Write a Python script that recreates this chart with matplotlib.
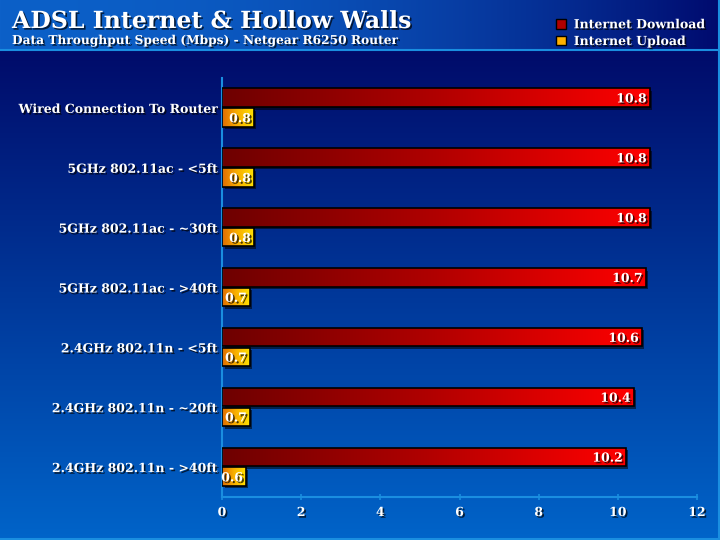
import numpy as np
import matplotlib.pyplot as plt
import matplotlib.patheffects as pe
import matplotlib.transforms as mtransforms
from matplotlib.colors import LinearSegmentedColormap
from matplotlib.patches import Patch

categories = ["Wired Connection To Router", "5GHz 802.11ac - <5ft", "5GHz 802.11ac - ~30ft",
              "5GHz 802.11ac - >40ft", "2.4GHz 802.11n - <5ft", "2.4GHz 802.11n - ~20ft",
              "2.4GHz 802.11n - >40ft"]
download = [10.8, 10.8, 10.8, 10.7, 10.6, 10.4, 10.2]
upload = [0.8, 0.8, 0.8, 0.7, 0.7, 0.7, 0.6]
series_names = ["Internet Download", "Internet Upload"]

FONT = "DejaVu Serif"
LINE = "#1a8ee0"
shadow = [pe.withSimplePatchShadow(offset=(1.2, -1.2), shadow_rgbFace="black", alpha=0.7)]

fig = plt.figure(figsize=(7.2, 5.4), dpi=100)

# background: header band with horizontal gradient, body with vertical gradient
W, H, HEAD = 720, 540, 50
img = np.zeros((H, W, 3))
c_left = np.array([0x0c, 0x60, 0xc8]) / 255
c_right = np.array([0x00, 0x0a, 0x6e]) / 255
t = (np.linspace(0, 1, W) ** 2.0)[None, :, None]
img[:HEAD] = c_left * (1 - t) + c_right * t
c_top = np.array([0x00, 0x0b, 0x6a]) / 255
c_bot = np.array([0x00, 0x64, 0xc9]) / 255
s = np.linspace(0, 1, H - HEAD)[:, None, None]
img[HEAD:] = c_top * (1 - s) + c_bot * s
bg = fig.add_axes([0, 0, 1, 1])
bg.imshow(img, extent=[0, 1, 0, 1], aspect="auto")
bg.set_xlim(0, 1)
bg.set_ylim(0, 1)
bg.set_axis_off()
bg.axhline(1 - HEAD / H, color=LINE, lw=1.5)
bg.axhline(0.002, color=LINE, lw=1.5)
bg.axvline(0.999, color=LINE, lw=1.5)

fig.text(12 / W, 1 - 28 / H, "ADSL Internet & Hollow Walls", color="white", fontsize=17,
         fontweight="bold", family=FONT, va="baseline", path_effects=shadow)
fig.text(12 / W, 1 - 44 / H, "Data Throughput Speed (Mbps) - Netgear R6250 Router", color="white",
         fontsize=8.8, fontweight="bold", family=FONT, va="baseline", path_effects=shadow)

ax = fig.add_axes([222 / W, 1 - 497 / H, 475 / W, 419 / H])
ax.set_facecolor("none")

y = np.arange(len(categories))
bh = 0.31
red = LinearSegmentedColormap.from_list("red", ["#6e0000", "#b00000", "#ff0000"])
orange = LinearSegmentedColormap.from_list("orange", ["#e06a00", "#f8b000", "#ffe000"])
grad = np.linspace(0, 1, 256)[None, :]
offset = mtransforms.offset_copy(ax.transData, fig=fig, x=2.5, y=-2.5, units="dots")

for vals, pos, cmap in [(download, y - 0.17, red), (upload, y + 0.16, orange)]:
    sh = ax.barh(pos, vals, height=bh, color="black", alpha=0.55, zorder=1)
    for p in sh:
        p.set_transform(offset)
    bars = ax.barh(pos, vals, height=bh, color="none", edgecolor="black", lw=1.2, zorder=3)
    for b, v, yy in zip(bars, vals, pos):
        x0, y0 = b.get_xy()
        im = ax.imshow(grad, cmap=cmap, aspect="auto", zorder=2,
                       extent=[x0, x0 + b.get_width(), y0 + b.get_height(), y0])
        im.set_clip_path(b)
        ax.text(v - 0.07, yy + 0.02, f"{v:.1f}", ha="right", va="center", color="white",
                fontsize=9, fontweight="bold", family=FONT, zorder=4, path_effects=shadow)

ax.set_xlim(0, 12)
ax.set_ylim(len(categories) - 0.5, -0.5)
ax.set_xticks(range(0, 13, 2))
ax.set_yticks(y)
ax.set_yticklabels(categories)
for lab in ax.get_xticklabels() + ax.get_yticklabels():
    lab.set_family(FONT)
    lab.set_fontweight("bold")
    lab.set_color("white")
    lab.set_path_effects(shadow)
ax.tick_params(axis="x", colors=LINE, labelcolor="white", labelsize=9, direction="inout",
               length=5, width=1.2, pad=4)
ax.tick_params(axis="y", length=0, labelsize=9, pad=3)
for side in ["top", "right"]:
    ax.spines[side].set_visible(False)
for side in ["left", "bottom"]:
    ax.spines[side].set_color(LINE)
    ax.spines[side].set_linewidth(1.5)

handles = [Patch(facecolor="#b00000", edgecolor="black"), Patch(facecolor="#ffb000", edgecolor="black")]
leg = fig.legend(handles, series_names, loc="upper left", bbox_to_anchor=(545 / W, 1 - 7 / H),
                 frameon=False, handlelength=0.8, handleheight=0.8, handletextpad=0.6,
                 labelspacing=0.3, prop={"family": FONT, "weight": "bold", "size": 9})
for txt in leg.get_texts():
    txt.set_color("white")
    txt.set_path_effects(shadow)

fig.savefig("out.png", dpi=100)
